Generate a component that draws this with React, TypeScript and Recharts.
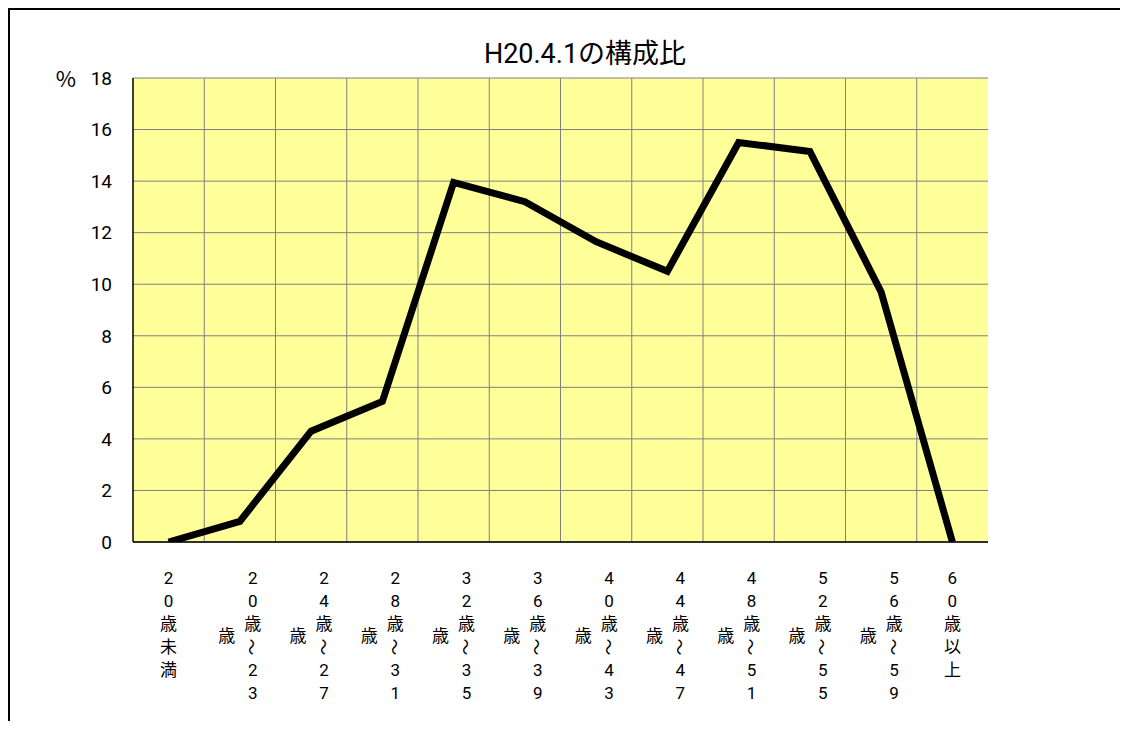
import { LineChart, Line, XAxis, YAxis, CartesianGrid } from 'recharts';

// 年齢区分
const categories = [
  '20歳未満',
  '20歳~23歳',
  '24歳~27歳',
  '28歳~31歳',
  '32歳~35歳',
  '36歳~39歳',
  '40歳~43歳',
  '44歳~47歳',
  '48歳~51歳',
  '52歳~55歳',
  '56歳~59歳',
  '60歳以上',
];

// 構成比 (%)
const ratios = [0, 0.8, 4.3, 5.45, 13.95, 13.2, 11.65, 10.5, 15.5, 15.15, 9.7, 0];

const yTicks = [0, 2, 4, 6, 8, 10, 12, 14, 16, 18];

const FONT = 'Roboto, "Noto Sans CJK JP", sans-serif';

const chartData = categories.map((name, i) => ({ name, value: ratios[i] }));

// vertical (tategaki) tick label: first column holds up to 6 chars, the rest wraps to the left
function VerticalTick(props: any) {
  const { x, y, payload } = props;
  const chars: string[] = Array.from(String(payload.value));
  const col1 = chars.slice(0, 6);
  const col2 = chars.slice(6);
  const pitch = 23;
  const top = y + 36;
  const twoCols = col2.length > 0;
  const x1 = twoCols ? x + 13 : x;
  const mid1 = top + ((col1.length - 1) * pitch) / 2;

  const renderChar = (c: string, cx: number, cy: number, key: string) => {
    if (c === '~') {
      return (
        <text
          key={key}
          x={cx}
          y={cy}
          textAnchor="middle"
          dominantBaseline="central"
          fontSize={17}
          fill="#000"
          style={{ fontFamily: '"Noto Sans CJK JP", sans-serif' }}
          transform={`rotate(90, ${cx}, ${cy})`}
        >
          ～
        </text>
      );
    }
    return (
      <text
        key={key}
        x={cx}
        y={cy}
        textAnchor="middle"
        dominantBaseline="central"
        fontSize={17}
        fill="#000"
      >
        {c}
      </text>
    );
  };

  return (
    <g style={{ fontFamily: FONT }}>
      {col1.map((c, i) => renderChar(c, x1, top + i * pitch, `a${i}`))}
      {col2.map((c, i) =>
        renderChar(c, x - 13, mid1 + (i - (col2.length - 1) / 2) * pitch, `b${i}`)
      )}
    </g>
  );
}

export default function App() {
  return (
    <div
      style={{
        position: 'relative',
        width: 1110,
        height: 711,
        borderTop: '2px solid #000',
        borderLeft: '2px solid #000',
        fontFamily: FONT,
      }}
    >
      <div
        style={{
          position: 'absolute',
          left: 375,
          width: 400,
          top: 29,
          textAlign: 'center',
          fontSize: 27,
          lineHeight: '30px',
          color: '#000',
        }}
      >
        H20.4.1の構成比
      </div>
      <LineChart
        width={1110}
        height={711}
        data={chartData}
        margin={{ top: 68, right: 132, left: 0, bottom: 0 }}
        style={{ position: 'absolute', left: 0, top: 0 }}
      >
        <CartesianGrid
          fill="#FFFF99"
          stroke="#808080"
          strokeWidth={1}
          verticalCoordinatesGenerator={({ offset }: any) =>
            categories.slice(1).map((_c, i) => offset.left + ((i + 1) * offset.width) / categories.length)
          }
        />
        <XAxis
          dataKey="name"
          interval={0}
          height={179}
          padding={{ left: 35.6, right: 35.6 }}
          axisLine={{ stroke: '#000', strokeWidth: 1.5 }}
          tickLine={false}
          tickSize={0}
          tickMargin={0}
          tick={<VerticalTick />}
        />
        <YAxis
          width={123}
          domain={[0, 18]}
          ticks={yTicks}
          allowDataOverflow
          interval={0}
          axisLine={{ stroke: '#000', strokeWidth: 1.5 }}
          tickLine={false}
          tickSize={0}
          tickMargin={21}
          tick={{ fill: '#000', fontSize: 19, fontFamily: FONT }}
          label={{
            content: (p: any) => (
              <text
                x={p.viewBox.x + 56}
                y={p.viewBox.y - 1}
                textAnchor="middle"
                dominantBaseline="central"
                fontSize={22}
                fill="#000"
                style={{ fontFamily: '"Noto Sans CJK JP", sans-serif' }}
              >
                %
              </text>
            ),
          }}
        />
        <Line
          type="linear"
          dataKey="value"
          stroke="#000"
          strokeWidth={7}
          strokeLinejoin="miter"
          dot={false}
          activeDot={false}
          isAnimationActive={false}
        />
      </LineChart>
    </div>
  );
}
